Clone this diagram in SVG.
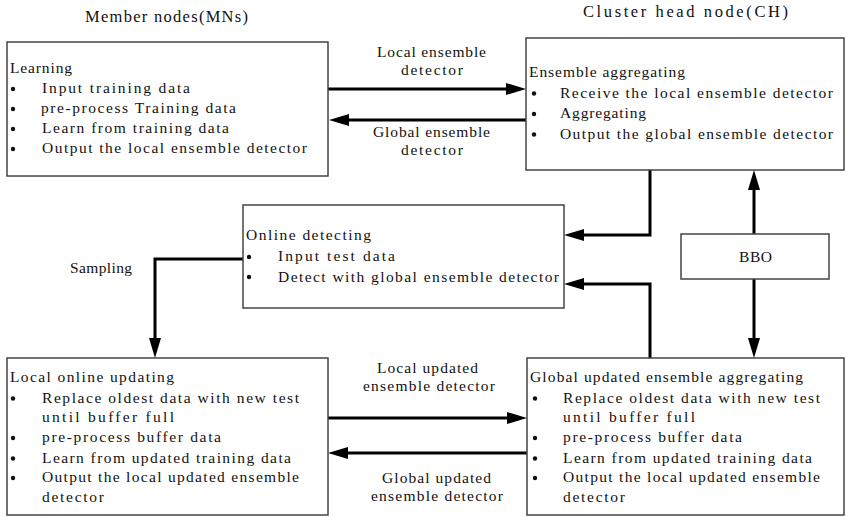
<svg xmlns="http://www.w3.org/2000/svg" width="847" height="517" viewBox="0 0 847 517">
  <defs>
    <style>
      .box { fill: #ffffff; stroke: #444444; stroke-width: 1.5; }
      .txt { font-family: "Liberation Serif", "DejaVu Serif", serif; font-size: 15.5px; fill: #111111; }
      .hdr { font-family: "Liberation Serif", "DejaVu Serif", serif; font-size: 16.5px; fill: #111111; }
      .dot { fill: #111111; }
      .wire { fill: none; stroke: #000000; stroke-width: 3; marker-end: url(#head); }
    </style>
    <marker id="head" markerUnits="userSpaceOnUse" markerWidth="20" markerHeight="12" refX="10" refY="6" orient="auto" viewBox="0 0 20 12">
      <path d="M0,0 L20,6 L0,12 Z" fill="#000000"/>
    </marker>
  </defs>

  <rect width="847" height="517" fill="#ffffff"/>

  <!-- column headings -->
  <text class="hdr" x="85" y="22" textLength="163" lengthAdjust="spacing">Member nodes(MNs)</text>
  <text class="hdr" x="583" y="17" textLength="205" lengthAdjust="spacing">Cluster head node(CH)</text>

  <!-- connectors -->
  <g id="connectors">
    <path class="wire" d="M328,89 H516"/>
    <path class="wire" d="M526,120 H339"/>
    <path class="wire" d="M650,170 V235 H574"/>
    <path class="wire" d="M650,358 V284 H574"/>
    <path class="wire" d="M754,234 V180"/>
    <path class="wire" d="M754,279 V348"/>
    <path class="wire" d="M243,259 H155 V348"/>
    <path class="wire" d="M328,418 H517"/>
    <path class="wire" d="M527,453 H338"/>
  </g>

  <!-- connector labels -->
  <g id="labels" class="txt" lengthAdjust="spacing">
    <text x="377" y="57" textLength="109">Local ensemble</text>
    <text x="401" y="75" textLength="62">detector</text>
    <text x="373" y="137" textLength="117">Global ensemble</text>
    <text x="401" y="155" textLength="62">detector</text>
    <text x="70" y="273" textLength="62">Sampling</text>
    <text x="377" y="373" textLength="101">Local updated</text>
    <text x="363" y="391" textLength="132">ensemble detector</text>
    <text x="382" y="483" textLength="109">Global updated</text>
    <text x="371" y="501" textLength="132">ensemble detector</text>
  </g>

  <!-- Learning (member node) -->
  <g id="learning">
    <rect class="box" x="7" y="42" width="321" height="134"/>
    <text class="txt" x="10" y="73" textLength="62">Learning</text>
    <circle class="dot" cx="13" cy="89" r="2.2"/>
    <circle class="dot" cx="13" cy="109" r="2.2"/>
    <circle class="dot" cx="13" cy="129" r="2.2"/>
    <circle class="dot" cx="13" cy="149" r="2.2"/>
    <text class="txt" x="42" y="93" textLength="148">Input training data</text>
    <text class="txt" x="41" y="113" textLength="195">pre-process Training data</text>
    <text class="txt" x="42" y="133" textLength="187">Learn from training data</text>
    <text class="txt" x="42" y="153" textLength="265">Output the local ensemble detector</text>
  </g>

  <!-- Ensemble aggregating (cluster head) -->
  <g id="ensemble-aggregating">
    <rect class="box" x="526" y="38" width="318" height="132"/>
    <text class="txt" x="529" y="77" textLength="156">Ensemble aggregating</text>
    <circle class="dot" cx="534" cy="93.5" r="2.2"/>
    <circle class="dot" cx="534" cy="114" r="2.2"/>
    <circle class="dot" cx="534" cy="134.5" r="2.2"/>
    <text class="txt" x="560" y="98" textLength="273">Receive the local ensemble detector</text>
    <text class="txt" x="560" y="118" textLength="86">Aggregating</text>
    <text class="txt" x="560" y="139" textLength="273">Output the global ensemble detector</text>
  </g>

  <!-- Online detecting -->
  <g id="online-detecting">
    <rect class="box" x="243" y="205" width="321" height="103"/>
    <text class="txt" x="246" y="240" textLength="125">Online detecting</text>
    <circle class="dot" cx="249" cy="257" r="2.2"/>
    <circle class="dot" cx="249" cy="277" r="2.2"/>
    <text class="txt" x="278" y="261" textLength="117">Input test data</text>
    <text class="txt" x="278" y="282" textLength="281">Detect with global ensemble detector</text>
  </g>

  <!-- BBO -->
  <g id="bbo">
    <rect class="box" x="681" y="234" width="148" height="45"/>
    <text class="txt" x="739" y="262" textLength="33" lengthAdjust="spacing">BBO</text>
  </g>

  <!-- Local online updating -->
  <g id="local-online-updating">
    <rect class="box" x="7" y="358" width="321" height="157"/>
    <text class="txt" x="10" y="382" textLength="164">Local online updating</text>
    <circle class="dot" cx="13" cy="398.5" r="2.2"/>
    <circle class="dot" cx="13" cy="438" r="2.2"/>
    <circle class="dot" cx="13" cy="458.5" r="2.2"/>
    <circle class="dot" cx="13" cy="478" r="2.2"/>
    <text class="txt" x="42" y="403" textLength="257">Replace oldest data with new test</text>
    <text class="txt" x="42" y="422" textLength="132">until buffer full</text>
    <text class="txt" x="42" y="442" textLength="179">pre-process buffer data</text>
    <text class="txt" x="42" y="463" textLength="249">Learn from updated training data</text>
    <text class="txt" x="42" y="482" textLength="257">Output the local updated ensemble</text>
    <text class="txt" x="42" y="502" textLength="62">detector</text>
  </g>

  <!-- Global updated ensemble aggregating -->
  <g id="global-updated-aggregating">
    <rect class="box" x="527" y="358" width="317" height="157"/>
    <text class="txt" x="530" y="382" textLength="273">Global updated ensemble aggregating</text>
    <circle class="dot" cx="535" cy="398.5" r="2.2"/>
    <circle class="dot" cx="535" cy="438" r="2.2"/>
    <circle class="dot" cx="535" cy="458.5" r="2.2"/>
    <circle class="dot" cx="535" cy="478" r="2.2"/>
    <text class="txt" x="563" y="403" textLength="257">Replace oldest data with new test</text>
    <text class="txt" x="563" y="422" textLength="132">until buffer full</text>
    <text class="txt" x="563" y="442" textLength="179">pre-process buffer data</text>
    <text class="txt" x="563" y="463" textLength="249">Learn from updated training data</text>
    <text class="txt" x="563" y="482" textLength="257">Output the local updated ensemble</text>
    <text class="txt" x="563" y="502" textLength="62">detector</text>
  </g>
</svg>
